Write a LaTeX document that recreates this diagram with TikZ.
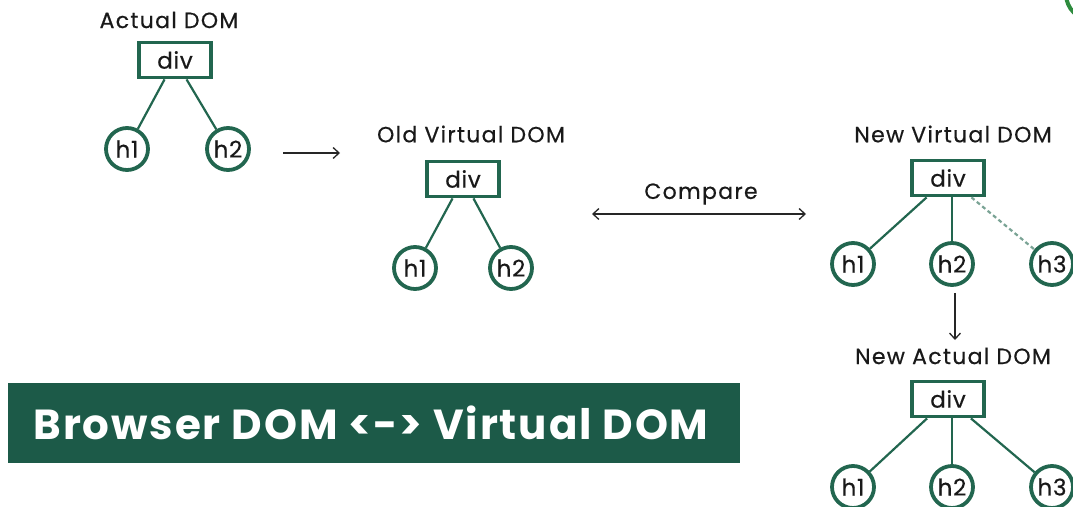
\documentclass[tikz,border=0pt]{standalone}
\usepackage{fontspec}
\setmainfont{Poppins}
\newfontfamily\lblfont[LetterSpace=6,FakeBold=0.5]{Poppins}
\newfontfamily\nodefont[LetterSpace=3,FakeBold=0.5]{Poppins}
\newfontfamily\banfont[LetterSpace=4.5]{Poppins}
\usetikzlibrary{arrows.meta}
\definecolor{dgreen}{HTML}{22664F}
\definecolor{banner}{HTML}{1C5A48}
\definecolor{lgreen}{HTML}{2E8B3E}
\begin{document}
\begin{tikzpicture}[x=1pt,y=-1pt,
  lbl/.style={font=\lblfont\fontsize{22}{24}\selectfont, inner sep=0pt, text=black!90},
  divbox/.style={draw=dgreen, line width=3.8pt, minimum width=72pt, minimum height=35pt, inner sep=0pt, font=\nodefont\fontsize{23}{25}\selectfont, text=black!90},
  hnode/.style={circle, draw=dgreen, line width=3.8pt, minimum size=42pt, inner sep=0pt, font=\nodefont\fontsize{23}{25}\selectfont, text=black!90},
  conn/.style={draw=dgreen, line width=2.2pt},
  arr/.style={draw=black!85, line width=1.3pt, -{Straight Barb[length=6pt,width=11pt]}},
]
\useasboundingbox (0,0) rectangle (1073,506);
\begin{scope}
\clip (0,0) rectangle (1073,506);
\draw[lgreen, line width=4pt] (1092,-6) circle (26);

% Actual DOM
\node[lbl] (t1) at (169,20) {Actual DOM};
\node[divbox] (d1) at (175,60) {div};
\node[hnode] (a1) at (127,149) {h1};
\node[hnode] (a2) at (228,149) {h2};
\draw[conn] (d1) -- (a1);
\draw[conn] (d1) -- (a2);

% arrow
\coordinate (p1) at (283,153);
\coordinate (p2) at (340,153);
\draw[arr] (p1) -- (p2);

% Old virtual DOM
\node[lbl] (t2) at (471,134) {Old Virtual DOM};
\node[divbox] (d2) at (463,179) {div};
\node[hnode] (o1) at (415,268) {h1};
\node[hnode] (o2) at (511,268) {h2};
\draw[conn] (d2) -- (o1);
\draw[conn] (d2) -- (o2);

% Compare
\node[lbl] (cmp) at (701,194) {Compare};
\coordinate (c1) at (592,214);
\coordinate (c2) at (806,214);
\draw[arr, {Straight Barb[length=6pt,width=11pt]}-{Straight Barb[length=6pt,width=11pt]}] (c1) -- (c2);

% New virtual DOM
\node[lbl] (t3) at (953,134) {New Virtual DOM};
\node[divbox] (d3) at (948,178) {div};
\node[hnode] (n1) at (853,264) {h1};
\node[hnode] (n2) at (952,264) {h2};
\node[hnode] (n3) at (1052,264) {h3};
\draw[conn] (d3) -- (n1);
\draw[conn] (d3.south -| n2) -- (n2);
\draw[conn, dgreen!60, dash pattern=on 4pt off 3pt] (d3) -- (n3);

% down arrow
\coordinate (q2) at (955,340);
\draw[arr] (n2.south -| q2) ++(0,6) -- (q2);

% New actual DOM
\node[lbl] (t4) at (953,356) {New Actual DOM};
\node[divbox] (d4) at (948,399) {div};
\node[hnode] (m1) at (853,487) {h1};
\node[hnode] (m2) at (952,487) {h2};
\node[hnode] (m3) at (1052,487) {h3};
\draw[conn] (d4) -- (m1);
\draw[conn] (d4.south -| m2) -- (m2);
\draw[conn] (d4) -- (m3);

% Banner
\node[fill=banner, minimum width=732pt, minimum height=80pt, inner sep=0pt, anchor=north west] (ban) at (8,383) {};
\node[text=white, font=\banfont\fontsize{42}{46}\selectfont\bfseries, inner sep=0pt] (bt) at (371,423) {Browser DOM <-> Virtual DOM};
\end{scope}
\end{tikzpicture}
\end{document}
